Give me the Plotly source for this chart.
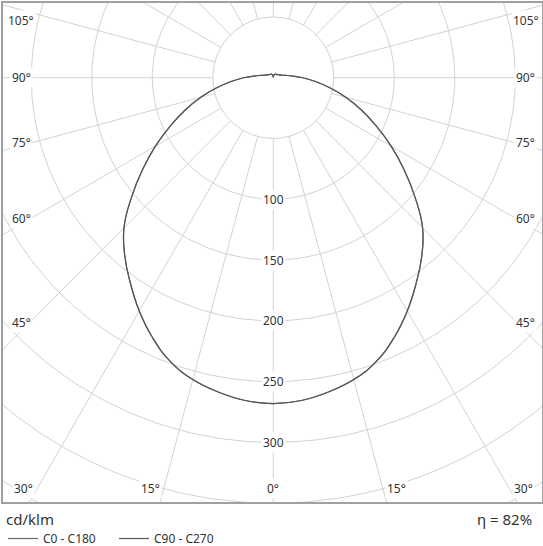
import numpy as np
import plotly.graph_objects as go

# ---- data ----
gamma_deg = [0, 5, 10, 15, 20, 25, 30, 35, 40, 45, 50, 55, 60, 65, 70, 75, 80, 85,
             90, 95, 100, 105, 110, 120, 130, 150, 170, 180]
c0_c180 = [268, 266.5, 262.5, 257, 248.5, 236, 221.5, 206, 191, 174.5, 153, 132,
           112.5, 94, 77.5, 62, 47.5, 35, 24.5, 16, 11, 8, 6.5, 5, 4, 3.5, 2, 0.5]
c90_c270 = [268, 266.5, 262.5, 257, 248.5, 236, 221.5, 206, 191, 174.5, 153, 132,
            112.5, 94, 77.5, 62, 47.5, 35, 24.5, 16, 11, 8, 6.5, 5, 4, 3.5, 2, 0.5]
series_names = ["C0 - C180", "C90 - C270"]

grid_radii = [50, 100, 150, 200, 250, 300, 350, 400, 450, 500]
radial_tick_values = [100, 150, 200, 250, 300]
spoke_angles = list(range(0, 360, 15))
side_angle_ticks = [45, 60, 75, 90, 105]
bottom_angle_ticks = [0, 15, 30]
unit_label = "cd/klm"
efficiency_label = "\u03b7 = 82%"

FONT = "Noto Sans, DejaVu Sans, sans-serif"
GRID = "#d2d2d2"
TXT = "#333333"


def full_curve(g, r):
    g = np.radians(np.asarray(g, dtype=float))
    r = np.asarray(r, dtype=float)
    xl = -r[::-1] * np.sin(g[::-1])
    yl = -r[::-1] * np.cos(g[::-1])
    xr = r[1:] * np.sin(g[1:])
    yr = -r[1:] * np.cos(g[1:])
    return np.concatenate([xl, xr]), np.concatenate([yl, yr])


fig = go.Figure()

# grid circles
t = np.linspace(0, 2 * np.pi, 361)
cx, cy = [], []
for r in grid_radii:
    cx += list(r * np.cos(t)) + [None]
    cy += list(r * np.sin(t)) + [None]
fig.add_trace(go.Scatter(x=cx, y=cy, mode="lines", line=dict(color=GRID, width=1),
                         hoverinfo="skip", showlegend=False))

# spokes (from the innermost circle outward)
sx, sy = [], []
r_in, r_out = grid_radii[0], 700
for a in spoke_angles:
    ar = np.radians(a)
    sx += [r_in * np.sin(ar), r_out * np.sin(ar), None]
    sy += [-r_in * np.cos(ar), -r_out * np.cos(ar), None]
fig.add_trace(go.Scatter(x=sx, y=sy, mode="lines", line=dict(color=GRID, width=1),
                         hoverinfo="skip", showlegend=False))

# light distribution curves
for name, vals, col in zip(series_names, [c0_c180, c90_c270], ["#6a6a6a", "#555555"]):
    x, y = full_curve(gamma_deg, vals)
    fig.add_trace(go.Scatter(x=x, y=y, mode="lines", name=name,
                             line=dict(color=col, width=1.2, shape="spline", smoothing=1.3),
                             hoverinfo="skip"))

annotations = []
for v in radial_tick_values:
    annotations.append(dict(x=0, y=-v, xref="x", yref="y", text=str(v), showarrow=False,
                            bgcolor="white", borderpad=1,
                            font=dict(family=FONT, size=12, color=TXT)))

side_x = 208.5
for a in side_angle_ticks:
    ar = np.radians(a)
    y = -side_x * np.cos(ar) / np.sin(ar)
    shift = 0.19 * (90 - a) if a < 90 else 0
    y = min(y, 47)
    for sgn in (-1, 1):
        annotations.append(dict(x=sgn * side_x, y=y, xref="x", yref="y", text=f"{a}\u00b0",
                                showarrow=False, bgcolor="white", borderpad=1, yshift=shift,
                                font=dict(family=FONT, size=12, color=TXT)))

bottom_y = -338.3
for a in bottom_angle_ticks:
    ar = np.radians(a)
    x = -bottom_y * np.tan(ar)
    sides = (1,) if a == 0 else (-1, 1)
    for sgn in sides:
        anchor = "center" if a == 0 else ("right" if sgn < 0 else "left")
        annotations.append(dict(x=sgn * x, y=bottom_y, xref="x", yref="y", text=f"{a}\u00b0",
                                showarrow=False, bgcolor="white", borderpad=1,
                                xanchor=anchor, xshift=(0 if a == 0 else sgn * 2),
                                font=dict(family=FONT, size=12, color=TXT)))

annotations.append(dict(x=0, y=-0.034, xref="paper", yref="paper", text=unit_label,
                        showarrow=False, xanchor="left", yanchor="middle", xshift=1,
                        font=dict(family=FONT, size=15, color=TXT)))
annotations.append(dict(x=1, y=-0.034, xref="paper", yref="paper", text=efficiency_label,
                        showarrow=False, xanchor="right", yanchor="middle", xshift=-8,
                        font=dict(family=FONT, size=15, color=TXT)))

axis_common = dict(showgrid=False, zeroline=False, showticklabels=False, ticks="",
                   showline=True, mirror=True, linecolor="#a0a0a0", linewidth=1.5,
                   fixedrange=True)

fig.update_layout(
    width=543, height=546,
    margin=dict(l=3, r=1, t=3, b=44, autoexpand=False),
    paper_bgcolor="white", plot_bgcolor="white",
    xaxis=dict(range=[-223.4, 222.1], **axis_common),
    yaxis=dict(range=[-349.0, 61.5], **axis_common),
    annotations=annotations,
    showlegend=True,
    legend=dict(orientation="h", x=0, xanchor="left", y=-0.0441, yanchor="top",
                font=dict(family=FONT, size=12, color=TXT),
                entrywidth=66, entrywidthmode="pixels",
                itemwidth=30, bgcolor="rgba(0,0,0,0)", tracegroupgap=0),
)

fig.write_html(
    "out.html",
    config={"displayModeBar": False},
    post_script="document.body.style.margin='0';document.body.style.overflow='hidden';",
)
